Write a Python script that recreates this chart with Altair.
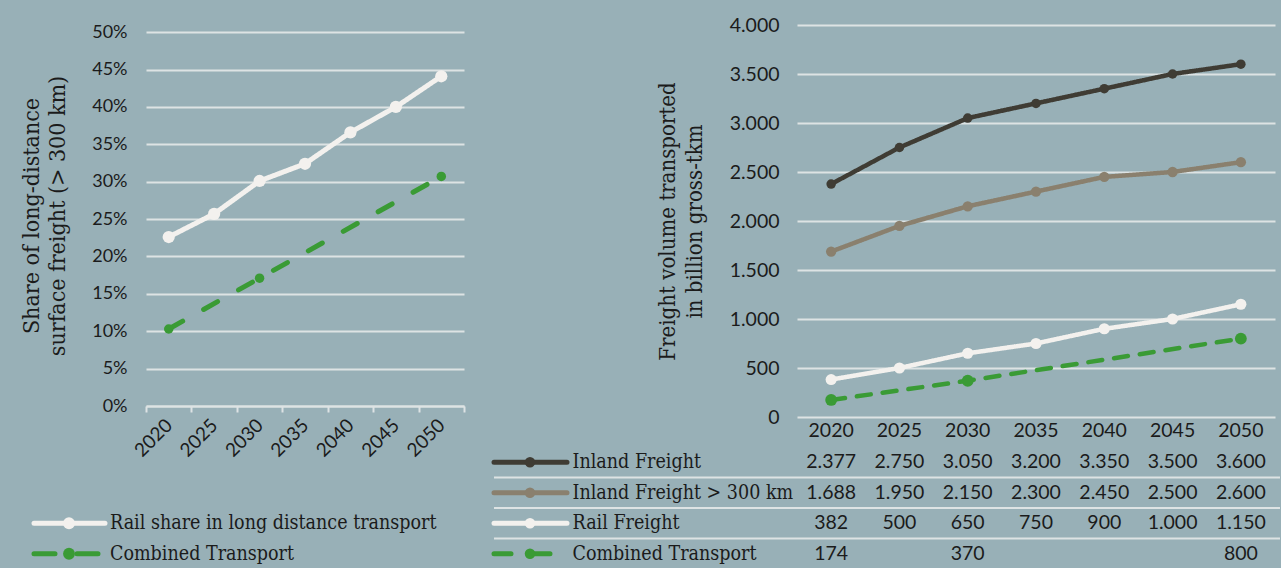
import altair as alt
import pandas as pd

# ---------------- data ----------------
years = ["2020", "2025", "2030", "2035", "2040", "2045", "2050"]

share_series = ["Rail share in long distance transport", "Combined Transport"]
rail_share = [0.226, 0.257, 0.301, 0.324, 0.366, 0.400, 0.441]
ct_share_years = ["2020", "2030", "2050"]
ct_share = [0.103, 0.171, 0.307]
share_ticks = [0.0, 0.05, 0.10, 0.15, 0.20, 0.25, 0.30, 0.35, 0.40, 0.45, 0.50]

volume_series = ["Inland Freight", "Inland Freight > 300 km", "Rail Freight", "Combined Transport"]
inland_freight = [2377, 2750, 3050, 3200, 3350, 3500, 3600]
inland_freight_300 = [1688, 1950, 2150, 2300, 2450, 2500, 2600]
rail_freight = [382, 500, 650, 750, 900, 1000, 1150]
ct_years = ["2020", "2030", "2050"]
combined_transport = [174, 370, 800]
volume_ticks = [0, 500, 1000, 1500, 2000, 2500, 3000, 3500, 4000]

# ---------------- style ----------------
BG = "#98B0B7"
GRID = "#DDE3E4"
TXT = "#1B1B1B"
C_IF = "#3F3C34"
C_IF300 = "#8A806E"
C_RAIL = "#F3F1EE"
C_CT = "#3A9B35"
SANS = "Lato"
SERIF = "DejaVu Serif Condensed, DejaVu Serif, serif"


def fmt(v):
    return f"{v:,}".replace(",", ".")


# ---------------- left chart ----------------
share_df = pd.DataFrame({
    "year": years + ct_share_years,
    "share": rail_share + ct_share,
    "series": [share_series[0]] * len(years) + [share_series[1]] * len(ct_share_years),
})

band_years = alt.Scale(type="band", domain=years, paddingInner=0, paddingOuter=0)

lx = alt.X("year:N", scale=band_years, axis=alt.Axis(
    title=None, tickBand="extent", domainColor=GRID, domainWidth=2,
    tickColor=GRID, tickWidth=2, tickSize=6, labelAngle=315, labelAlign="right",
    labelBaseline="middle", labelFont=SANS, labelFontSize=19, labelColor=TXT,
    labelPadding=10, grid=False))
ly = alt.Y("share:Q", scale=alt.Scale(domain=[0, 0.5096], nice=False), axis=alt.Axis(
    values=share_ticks, format=".0%",
    title=["Share of long-distance", "surface freight (> 300 km)"],
    titleFont=SERIF, titleFontSize=23, titleFontWeight="normal", titleColor=TXT,
    titlePadding=22, titleLineHeight=26,
    labelFont=SANS, labelFontSize=18, labelColor=TXT, labelPadding=19,
    ticks=False, domain=False, grid=True, gridColor=GRID, gridWidth=2))
share_color = alt.Color("series:N", scale=alt.Scale(domain=share_series, range=[C_RAIL, C_CT]), legend=None)
share_dash = alt.StrokeDash("series:N", scale=alt.Scale(domain=share_series, range=[[1, 0], [16, 24]]), legend=None)
share_size = alt.Size("series:N", scale=alt.Scale(domain=share_series, range=[150, 90]), legend=None)

left_lines = alt.Chart(share_df).mark_line(strokeWidth=5, strokeCap="round").encode(
    x=lx, y=ly, color=share_color, strokeDash=share_dash)
left_pts = alt.Chart(share_df).mark_circle(opacity=1).encode(
    x=lx, y=ly, color=share_color, size=share_size)
left_plot = alt.layer(left_lines, left_pts).properties(width=318, height=381)

# ---------------- left legend ----------------
leg_df = pd.DataFrame({"series": share_series})
leg_y = alt.Y("series:N", scale=alt.Scale(type="band", domain=share_series, paddingInner=0,
                                            paddingOuter=1, align=1), axis=None)
leg_dash = alt.StrokeDash("series:N", scale=alt.Scale(domain=share_series, range=[[1, 0], [21, 22]]), legend=None)
leg_rule = alt.Chart(leg_df).mark_rule(strokeWidth=5, strokeCap="round").encode(
    y=leg_y, x=alt.value(-112), x2=alt.value(-41), color=share_color, strokeDash=leg_dash)
leg_pt = alt.Chart(leg_df).mark_circle(size=140, opacity=1).encode(
    y=leg_y, x=alt.value(-77), color=share_color)
leg_txt = alt.Chart(leg_df).mark_text(align="left", baseline="middle", font=SERIF,
                                      fontSize=19.5, color=TXT).encode(
    y=leg_y, x=alt.value(-36), text="series:N")
left_legend = alt.layer(leg_rule, leg_pt, leg_txt).properties(width=318, height=122)

# ---------------- right chart ----------------
vol_df = pd.DataFrame({
    "year": years * 3 + ct_years,
    "value": inland_freight + inland_freight_300 + rail_freight + combined_transport,
    "series": [volume_series[0]] * 7 + [volume_series[1]] * 7 + [volume_series[2]] * 7
              + [volume_series[3]] * 3,
})

rx = alt.X("year:N", scale=band_years, axis=alt.Axis(
    title=None, ticks=False, domain=False, labelAngle=0, labelFont=SANS,
    labelFontSize=19.5, labelColor=TXT, labelPadding=4, grid=False))
ry = alt.Y("value:Q", scale=alt.Scale(domain=[0, 4000], nice=False), axis=alt.Axis(
    values=volume_ticks, labelExpr="replace(format(datum.value, ',d'), ',', '.')",
    title=["Freight volume transported", "in billion gross-tkm"],
    titleFont=SERIF, titleFontSize=22, titleFontWeight="normal", titleColor=TXT,
    titlePadding=23, titleLineHeight=27,
    labelFont=SANS, labelFontSize=19.5, labelColor=TXT, labelPadding=18,
    ticks=False, domain=False, grid=True, gridColor=GRID, gridWidth=2))
vol_color = alt.Color("series:N", scale=alt.Scale(domain=volume_series,
                                                  range=[C_IF, C_IF300, C_RAIL, C_CT]), legend=None)
vol_dash = alt.StrokeDash("series:N", scale=alt.Scale(domain=volume_series,
                                                      range=[[1, 0], [1, 0], [1, 0], [14, 12]]), legend=None)
vol_size = alt.Size("series:N", scale=alt.Scale(domain=volume_series, range=[90, 140, 140, 140]), legend=None)

right_lines = alt.Chart(vol_df).mark_line(strokeWidth=4.5, strokeCap="round").encode(
    x=rx, y=ry, color=vol_color, strokeDash=vol_dash)
right_pts = alt.Chart(vol_df).mark_circle(opacity=1).encode(
    x=rx, y=ry, color=vol_color, size=vol_size)
right_plot = alt.layer(right_lines, right_pts).properties(width=478, height=392)

# ---------------- data table ----------------
tbl_df = vol_df.assign(label=[fmt(v) for v in vol_df["value"]])
row_df = pd.DataFrame({"series": volume_series})
sep_df = pd.DataFrame({"series": volume_series[1:]})

row_scale = alt.Scale(type="band", domain=volume_series, paddingInner=0, paddingOuter=0)
row_axis = alt.Axis(
    title=None, ticks=False, domain=False, grid=False, labelAlign="left",
    labelBaseline="middle", labelPadding=225, labelFont=SERIF, labelFontSize=19.5,
    labelColor=TXT, labelLimit=400)
ty = alt.Y("series:N", scale=row_scale, axis=row_axis)
tx = alt.X("year:N", scale=band_years, axis=None)

tbl_txt = alt.Chart(tbl_df).mark_text(font=SANS, fontSize=19.5, color=TXT, baseline="middle").encode(
    x=tx, y=ty, text="label:N")
tbl_sep = alt.Chart(sep_df).mark_rule(color=GRID, strokeWidth=2).encode(
    y=alt.Y("series:N", scale=row_scale, bandPosition=0, axis=row_axis),
    x=alt.value(-303), x2=alt.value(483))
tbl_dash = alt.StrokeDash("series:N", scale=alt.Scale(domain=volume_series,
                                                      range=[[1, 0], [1, 0], [1, 0], [17, 22]]), legend=None)
tbl_rule = alt.Chart(row_df).mark_rule(strokeWidth=5, strokeCap="round").encode(
    y=ty, x=alt.value(-303), x2=alt.value(-230), color=vol_color, strokeDash=tbl_dash)
tbl_pt = alt.Chart(row_df).mark_circle(size=110, opacity=1).encode(
    y=ty, x=alt.value(-267), color=vol_color)
table = alt.layer(tbl_txt, tbl_sep, tbl_rule, tbl_pt).properties(width=478, height=122)

# ---------------- assemble ----------------
chart = alt.concat(
    left_plot, right_plot, left_legend, table,
    columns=2, spacing={"row": 30, "column": 333}, bounds="flush", align="each",
).resolve_scale(
    color="independent", strokeDash="independent", size="independent",
    x="independent", y="independent",
).properties(
    background=BG,
    padding={"left": 20, "top": 15, "right": 0, "bottom": 0},
).configure_view(stroke=None)

chart.save("out.html", embed_options={"renderer": "svg", "actions": False})
